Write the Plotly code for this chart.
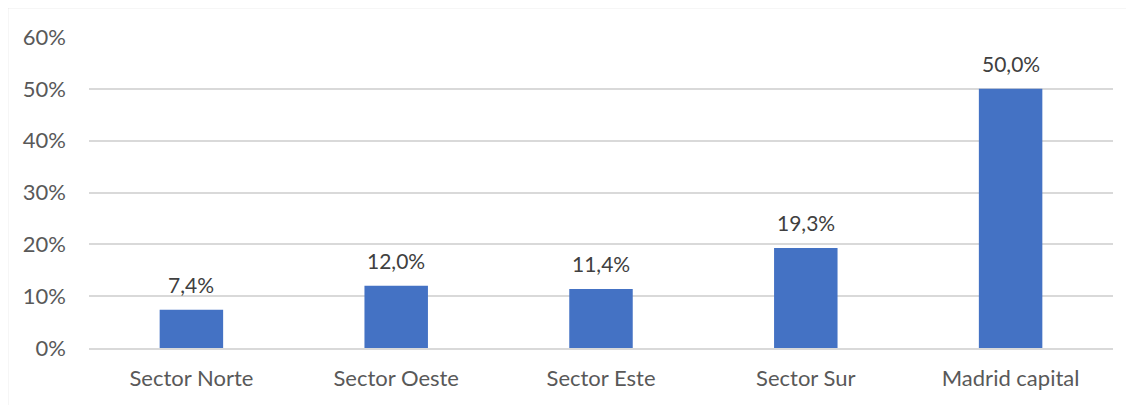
import plotly.graph_objects as go

categories = ["Sector Norte", "Sector Oeste", "Sector Este", "Sector Sur", "Madrid capital"]
values = [0.074, 0.120, 0.114, 0.193, 0.500]
tick_vals = [0, 0.1, 0.2, 0.3, 0.4, 0.5, 0.6]

FONT = "Lato"
TXT = "#595959"
OFF = 8  # page body margin

L, T = 89 - OFF, 37 - OFF
PW, PH = 1024, 311.5

fig = go.Figure()
fig.add_trace(go.Bar(
    x=categories, y=values,
    marker=dict(color="#4472C4", line=dict(width=0)),
    hoverinfo="skip",
))
for c, v in zip(categories, values):
    fig.add_annotation(x=c, y=v, text=f"{v*100:.1f}%".replace(".", ","),
                       showarrow=False, yanchor="bottom", yshift=11,
                       font=dict(family=FONT, size=21, color="#404040"))

fig.update_layout(
    width=1134, height=405,
    margin=dict(l=L, r=1134 - L - PW, t=T, b=405 - T - PH),
    paper_bgcolor="white", plot_bgcolor="white",
    bargap=0.69,
    showlegend=False,
    separators=",.",
    font=dict(family=FONT, size=22, color=TXT),
    xaxis=dict(showgrid=False, showline=True, linecolor="#d9d9d9", linewidth=1.5,
               ticks="", tickfont=dict(size=22, color=TXT), ticklabelstandoff=10),
    yaxis=dict(range=[0, 0.6], tickvals=tick_vals, tickformat=".0%",
               showgrid=True, gridcolor="#d9d9d9", gridwidth=1.5,
               zeroline=False, showline=False, ticks="",
               tickfont=dict(size=22, color=TXT), ticklabelstandoff=22),
    shapes=[dict(type="rect", xref="paper", yref="paper",
                 x0=(7.5 - 89) / PW, x1=1.3, y0=-0.6, y1=(348.5 - 7.5) / PH,
                 line=dict(color="#d9d9d9", width=1.5), fillcolor="rgba(0,0,0,0)",
                 layer="below")],
)
fig.write_html("out.html")
